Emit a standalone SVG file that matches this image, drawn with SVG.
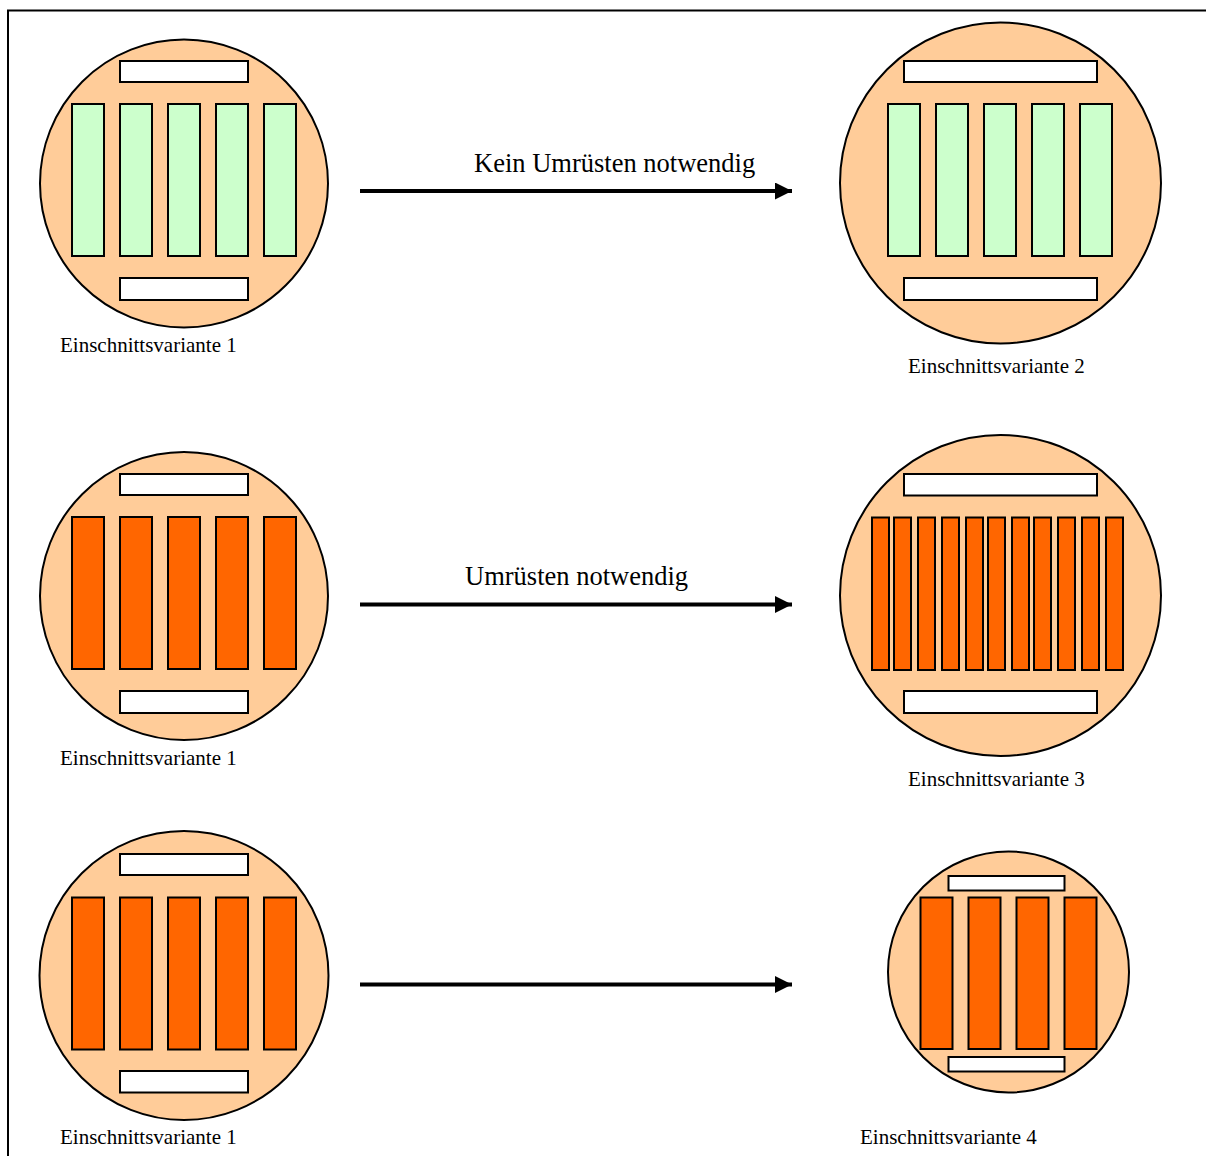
<svg xmlns="http://www.w3.org/2000/svg" width="1206" height="1156" viewBox="0 0 1206 1156">
<style>
.disc{fill:#FFCC99;stroke:#000;stroke-width:2}
.wh{fill:#FFFFFF;stroke:#000;stroke-width:2}
.gr{fill:#CCFFCC;stroke:#000;stroke-width:2}
.or{fill:#FF6600;stroke:#000;stroke-width:2}
.lbl{font-family:"Liberation Serif","Times New Roman",serif;font-size:21px;fill:#000}
.big{font-family:"Liberation Serif","Times New Roman",serif;font-size:26.5px;fill:#000}
.conn{stroke:#000;stroke-width:4;fill:none}
</style>
<defs>
<marker id="ah" markerUnits="userSpaceOnUse" markerWidth="18" markerHeight="18" refX="17" refY="8.5" orient="auto">
<path d="M0,0 L17,8.5 L0,17 Z" fill="#000"/>
</marker>
</defs>
<rect x="0" y="0" width="1206" height="1156" fill="#FFFFFF"/>
<rect x="8" y="10.5" width="1300" height="1300" fill="none" stroke="#000" stroke-width="2"/>

<g id="v1a">
<circle class="disc" cx="184" cy="183.5" r="144"/>
<rect class="wh" x="120" y="61" width="128" height="21"/>
<rect class="gr" x="72" y="104" width="32" height="152"/>
<rect class="gr" x="120" y="104" width="32" height="152"/>
<rect class="gr" x="168" y="104" width="32" height="152"/>
<rect class="gr" x="216" y="104" width="32" height="152"/>
<rect class="gr" x="264" y="104" width="32" height="152"/>
<rect class="wh" x="120" y="278" width="128" height="22"/>
<text class="lbl" x="60" y="352">Einschnittsvariante 1</text>
</g>

<g id="v2">
<circle class="disc" cx="1000.5" cy="183" r="160.5"/>
<rect class="wh" x="904" y="61" width="193" height="21"/>
<rect class="gr" x="888" y="104" width="32" height="152"/>
<rect class="gr" x="936" y="104" width="32" height="152"/>
<rect class="gr" x="984" y="104" width="32" height="152"/>
<rect class="gr" x="1032" y="104" width="32" height="152"/>
<rect class="gr" x="1080" y="104" width="32" height="152"/>
<rect class="wh" x="904" y="278" width="193" height="22"/>
<text class="lbl" x="908" y="373">Einschnittsvariante 2</text>
</g>

<g id="v1b">
<circle class="disc" cx="184" cy="596" r="144"/>
<rect class="wh" x="120" y="474" width="128" height="21"/>
<rect class="or" x="72" y="517" width="32" height="152"/>
<rect class="or" x="120" y="517" width="32" height="152"/>
<rect class="or" x="168" y="517" width="32" height="152"/>
<rect class="or" x="216" y="517" width="32" height="152"/>
<rect class="or" x="264" y="517" width="32" height="152"/>
<rect class="wh" x="120" y="691" width="128" height="22"/>
<text class="lbl" x="60" y="765">Einschnittsvariante 1</text>
</g>

<g id="v3">
<circle class="disc" cx="1000.5" cy="595.5" r="160.5"/>
<rect class="wh" x="904" y="474" width="193" height="21.5"/>
<rect class="or" x="872" y="517.5" width="17" height="152.5"/>
<rect class="or" x="894" y="517.5" width="17" height="152.5"/>
<rect class="or" x="918" y="517.5" width="17" height="152.5"/>
<rect class="or" x="942" y="517.5" width="17" height="152.5"/>
<rect class="or" x="966" y="517.5" width="17" height="152.5"/>
<rect class="or" x="988" y="517.5" width="17" height="152.5"/>
<rect class="or" x="1012" y="517.5" width="17" height="152.5"/>
<rect class="or" x="1034" y="517.5" width="17" height="152.5"/>
<rect class="or" x="1058" y="517.5" width="17" height="152.5"/>
<rect class="or" x="1082" y="517.5" width="17" height="152.5"/>
<rect class="or" x="1106" y="517.5" width="17" height="152.5"/>
<rect class="wh" x="904" y="691" width="193" height="22"/>
<text class="lbl" x="908" y="786">Einschnittsvariante 3</text>
</g>

<g id="v1c">
<circle class="disc" cx="184" cy="975.5" r="144.5"/>
<rect class="wh" x="120" y="854" width="128" height="21"/>
<rect class="or" x="72" y="897.5" width="32" height="152"/>
<rect class="or" x="120" y="897.5" width="32" height="152"/>
<rect class="or" x="168" y="897.5" width="32" height="152"/>
<rect class="or" x="216" y="897.5" width="32" height="152"/>
<rect class="or" x="264" y="897.5" width="32" height="152"/>
<rect class="wh" x="120" y="1071" width="128" height="21.5"/>
<text class="lbl" x="60" y="1144">Einschnittsvariante 1</text>
</g>

<g id="v4">
<circle class="disc" cx="1008.5" cy="972" r="120.5"/>
<rect class="wh" x="948.5" y="876" width="116" height="14.5"/>
<rect class="or" x="920.5" y="897.5" width="32" height="151.5"/>
<rect class="or" x="968.5" y="897.5" width="32" height="151.5"/>
<rect class="or" x="1016.5" y="897.5" width="32" height="151.5"/>
<rect class="or" x="1064.5" y="897.5" width="32" height="151.5"/>
<rect class="wh" x="948.5" y="1057" width="116" height="14.5"/>
<text class="lbl" x="860" y="1144">Einschnittsvariante 4</text>
</g>

<g id="connectors">
<line class="conn" x1="360" y1="191" x2="792" y2="191" marker-end="url(#ah)"/>
<text class="big" x="474" y="172">Kein Umrüsten notwendig</text>
<line class="conn" x1="360" y1="604.5" x2="792" y2="604.5" marker-end="url(#ah)"/>
<text class="big" x="465" y="585">Umrüsten notwendig</text>
<line class="conn" x1="360" y1="984.5" x2="792" y2="984.5" marker-end="url(#ah)"/>
</g>
</svg>
